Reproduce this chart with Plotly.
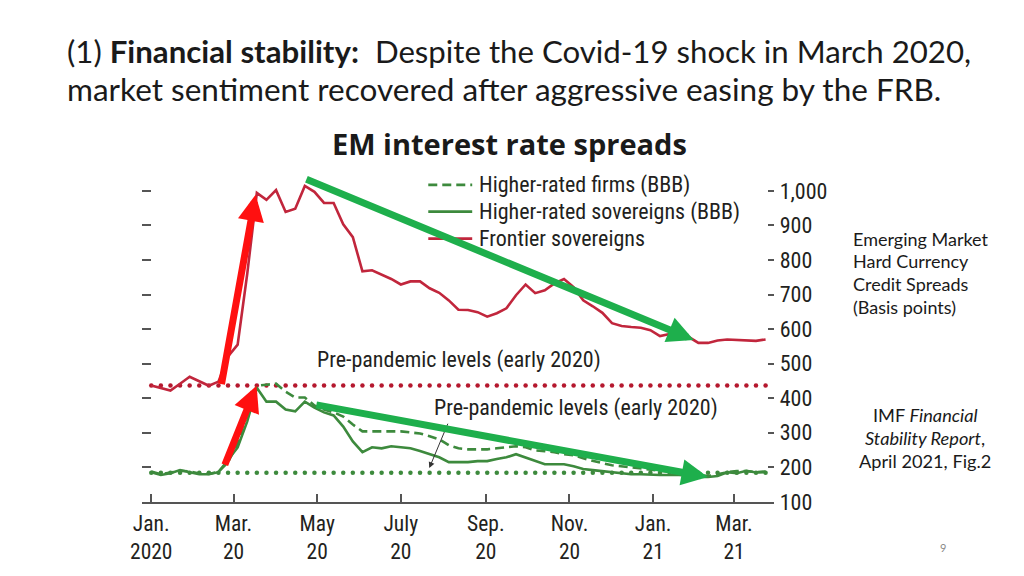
import pandas as pd
import plotly.graph_objects as go

# ---------------- data ----------------
dates = pd.date_range("2020-01-01", periods=65, freq="7D")

frontier_sovereigns = [437, 429, 422, 442, 462, 449, 436, 448, 521, 555,
                       760, 994, 974, 1002, 939, 948, 1014, 997, 965, 965,
                       903, 866, 767, 770, 758, 745, 729, 738, 738, 718,
                       705, 683, 656, 655, 649, 636, 646, 660, 698, 729,
                       704, 712, 732, 745, 721, 683, 666, 647, 617, 609,
                       606, 604, 597, 580, 586, 589, 577, 560, 560, 567,
                       570, 568, 566, 566, 570]

higher_rated_sovereigns = [186, 178, 183, 192, 186, 180, 180, 186, 221, 258,
                           333, 430, 390, 390, 367, 362, 390, 373, 359, 350,
                           318, 275, 244, 258, 255, 261, 258, 255, 247, 238,
                           229, 215, 215, 215, 218, 218, 224, 229, 238, 229,
                           218, 209, 209, 209, 203, 195, 192, 189, 186, 183,
                           180, 180, 178, 178, 178, 178, 175, 172, 172, 175,
                           186, 183, 190, 185, 188]

higher_rated_firms = [188, 180, 185, 190, 188, 182, 181, 187, 215, 270,
                      360, 436, 439, 442, 419, 402, 402, 379, 367, 359,
                      347, 324, 304, 304, 304, 304, 304, 301, 298, 290,
                      281, 264, 255, 252, 252, 252, 255, 258, 261, 258,
                      249, 247, 244, 238, 235, 226, 218, 212, 206, 203,
                      201, 198, 195, 192, 189, 186, 183, 178, 175, 180,
                      186, 189, 189, 186, 186]

pre_pandemic_frontier = 437
pre_pandemic_higher_rated = 184

x_tick_dates = ["2020-01-01", "2020-03-01", "2020-05-01", "2020-07-01",
                "2020-09-01", "2020-11-01", "2021-01-01", "2021-03-01"]
x_tick_text = ["Jan.<br>2020", "Mar.<br>20", "May<br>20", "July<br>20",
               "Sep.<br>20", "Nov.<br>20", "Jan.<br>21", "Mar.<br>21"]
y_tick_vals = [100, 200, 300, 400, 500, 600, 700, 800, 900, 1000]
y_tick_text = ["100", "200", "300", "400", "500", "600", "700", "800", "900", "1,000"]

legend_names = ["Higher-rated firms (BBB)", "Higher-rated sovereigns (BBB)", "Frontier sovereigns"]

# ---------------- style ----------------
W, H = 1024, 576
RED = "#C1263C"
GREEN = "#3D8A3D"
ARROW_GREEN = "#1EAF4C"
ARROW_RED = "#FF1010"
NARROW = "Roboto Condensed, Liberation Sans Narrow, Arial Narrow, DejaVu Sans Condensed, sans-serif"
NSIZE = 22
SLIDE = "Lato, Carlito, Calibri, sans-serif"
TXT = "#231F20"
PAD = 2.4  # annotation text padding


def fxp(x):
    """target picture x (px) -> figure px"""
    return (x - 10) / 0.99


def fyp(y):
    return y / 0.98


def px(x):
    return fxp(x) / W


def py(y):
    return 1 - fyp(y) / H


# axis placement (figure px)
X_LEFT, X_RIGHT = fxp(140), fxp(773)
Y_BOTTOM = fyp(503)          # value 100
Y_1000 = fyp(190)            # value 1000
per100 = (Y_BOTTOM - Y_1000) / 9
Y_TOP_VAL = 1030
Y_TOP = Y_BOTTOM - (Y_TOP_VAL - 100) / 100 * per100
jan1 = fxp(149.5)
perday = (fxp(733.3) - jan1) / 425
x_start = pd.Timestamp("2020-01-01") + pd.Timedelta(days=(X_LEFT - jan1) / perday)
x_end = pd.Timestamp("2020-01-01") + pd.Timedelta(days=(X_RIGHT - jan1) / perday)

fig = go.Figure()

fig.add_trace(go.Scatter(x=dates, y=[pre_pandemic_frontier] * len(dates), mode="markers",
                         marker=dict(color="#B5182E", size=4.5, symbol="circle"),
                         hoverinfo="skip", showlegend=False))
fig.add_trace(go.Scatter(x=dates, y=[pre_pandemic_higher_rated] * len(dates), mode="markers",
                         marker=dict(color=GREEN, size=4.5, symbol="circle"),
                         hoverinfo="skip", showlegend=False))
fig.add_trace(go.Scatter(x=dates, y=higher_rated_firms, mode="lines", name=legend_names[0],
                         line=dict(color=GREEN, width=2.6, dash="9px,5px"), showlegend=False))
fig.add_trace(go.Scatter(x=dates, y=higher_rated_sovereigns, mode="lines", name=legend_names[1],
                         line=dict(color=GREEN, width=2.6), showlegend=False))
fig.add_trace(go.Scatter(x=dates, y=frontier_sovereigns, mode="lines", name=legend_names[2],
                         line=dict(color=RED, width=2.6), showlegend=False))
# invisible trace to carry the left-hand tick marks
fig.add_trace(go.Scatter(x=dates[:1], y=[pre_pandemic_higher_rated], yaxis="y2", mode="markers",
                         marker=dict(opacity=0), hoverinfo="skip", showlegend=False))

Y_RANGE = [100, Y_TOP_VAL]
fig.update_layout(
    width=W, height=H, autosize=False,
    margin=dict(l=0, r=0, t=0, b=0),
    paper_bgcolor="white", plot_bgcolor="white",
    showlegend=False,
    xaxis=dict(type="date", range=[x_start, x_end],
               domain=[X_LEFT / W, X_RIGHT / W],
               tickvals=x_tick_dates, ticktext=x_tick_text,
               ticks="inside", ticklen=8, tickwidth=2, tickcolor="#555",
               showline=True, linecolor="#555", linewidth=2,
               showgrid=False, zeroline=False, ticklabelstandoff=1,
               tickfont=dict(family=NARROW, size=21.5, color=TXT)),
    yaxis=dict(range=Y_RANGE, domain=[1 - Y_BOTTOM / H, 1 - Y_TOP / H],
               side="right", tickvals=y_tick_vals, ticktext=y_tick_text,
               ticks="inside", ticklen=6, tickwidth=1.5, tickcolor="#555",
               showline=False, showgrid=False, zeroline=False, ticklabelstandoff=5,
               tickfont=dict(family=NARROW, size=NSIZE, color=TXT)),
    yaxis2=dict(range=Y_RANGE, overlaying="y", side="left", anchor="x",
                tickvals=y_tick_vals[1:], ticks="inside", ticklen=9, tickwidth=1.5,
                tickcolor="#555", showticklabels=False, showline=False,
                showgrid=False, zeroline=False),
)

# ---------------- legend (drawn manually) ----------------
leg_y = [184, 211, 238]
leg_dash = ["9px,5px", "solid", "solid"]
leg_col = [GREEN, GREEN, RED]
for name, yy, dsh, col in zip(legend_names, leg_y, leg_dash, leg_col):
    fig.add_shape(type="line", xref="paper", yref="paper",
                  x0=px(427), x1=px(471), y0=py(yy), y1=py(yy),
                  line=dict(color=col, width=2.8, dash=dsh))
    fig.add_annotation(xref="paper", yref="paper", x=(fxp(478) - PAD) / W, y=py(yy),
                       text=name, showarrow=False, xanchor="left", yanchor="middle",
                       font=dict(family=NARROW, size=NSIZE, color=TXT))

# ---------------- chart annotations ----------------
fig.add_annotation(xref="paper", yref="paper", x=(fxp(316) - PAD) / W, y=py(360),
                   text="Pre-pandemic levels (early 2020)", showarrow=False,
                   xanchor="left", yanchor="middle",
                   font=dict(family=NARROW, size=NSIZE, color=TXT))
fig.add_annotation(xref="paper", yref="paper", x=(fxp(433) - PAD) / W, y=py(409),
                   text="Pre-pandemic levels (early 2020)", showarrow=False,
                   xanchor="left", yanchor="middle",
                   font=dict(family=NARROW, size=NSIZE, color=TXT))

# arrows: (tail, head) in picture px
arrows = [
    ((447, 424), (428, 469), "#333333", 1, 1.2),
    ((220, 381), (254, 194), ARROW_RED, 7, 0.75),
    ((223, 465), (255, 386), ARROW_RED, 7, 0.75),
    ((308, 182), (693, 340), ARROW_GREEN, 7, 0.75),
    ((318, 407), (707, 478), ARROW_GREEN, 7, 0.75),
]
for (tx, ty), (hx, hy), col, wdt, asz in arrows:
    fig.add_annotation(xref="paper", yref="paper", x=px(hx), y=py(hy),
                       ax=fxp(tx) - fxp(hx), ay=fyp(ty) - fyp(hy), text="", showarrow=True,
                       arrowhead=2, arrowsize=asz, arrowwidth=wdt, arrowcolor=col)

# ---------------- slide text ----------------
fig.add_annotation(xref="paper", yref="paper", x=(fxp(65) - PAD) / W, y=py(49),
                   text="(1) <b>Financial stability:</b>  Despite the Covid-19 shock in March 2020,",
                   showarrow=False, xanchor="left", yanchor="middle",
                   font=dict(family=SLIDE, size=31.2, color="#1a1a1a"))
fig.add_annotation(xref="paper", yref="paper", x=(fxp(65) - PAD) / W, y=py(88),
                   text="market sentiment recovered after aggressive easing by the FRB.",
                   showarrow=False, xanchor="left", yanchor="middle",
                   font=dict(family=SLIDE, size=31.5, color="#1a1a1a"))
fig.add_annotation(xref="paper", yref="paper", x=px(508), y=py(142),
                   text="<b>EM interest rate spreads</b>", showarrow=False,
                   xanchor="center", yanchor="middle",
                   font=dict(family="Open Sans, DejaVu Sans, sans-serif", size=29, color="#1a1a1a"))
side_lines = ["Emerging Market", "Hard Currency", "Credit Spreads", "(Basis points)"]
for i, t in enumerate(side_lines):
    fig.add_annotation(xref="paper", yref="paper", x=(fxp(853) - PAD) / W, y=py(238 + 23 * i),
                       text=t, showarrow=False, xanchor="left", yanchor="middle",
                       font=dict(family=SLIDE, size=18, color="#1a1a1a"))
src_lines = ["IMF <i>Financial</i>", "<i>Stability Report</i>,", "April 2021, Fig.2"]
for i, t in enumerate(src_lines):
    fig.add_annotation(xref="paper", yref="paper", x=px(925), y=py(416 + 23 * i),
                       text=t, showarrow=False, xanchor="center", yanchor="middle",
                       font=dict(family=SLIDE, size=18.2, color="#1a1a1a"))
fig.add_annotation(xref="paper", yref="paper", x=px(943), y=py(549),
                   text="9", showarrow=False, xanchor="center", yanchor="middle",
                   font=dict(family=SLIDE, size=11, color="#8a8a8a"))

fig.write_html(
    "out.html",
    config={"displayModeBar": False},
    post_script="document.body.style.margin='0';document.body.style.overflow='hidden';",
)
